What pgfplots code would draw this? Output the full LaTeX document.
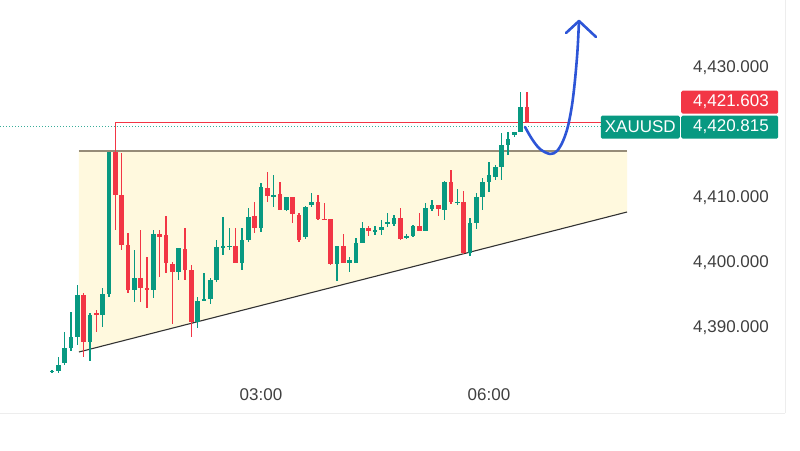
\documentclass[border=0pt]{standalone}
\usepackage{fontspec}
\setmainfont{Liberation Sans}
\usepackage{pgfplots}
\usepackage{pgfplotstable}
\pgfplotsset{compat=1.18}
\definecolor{cGreen}{RGB}{8,153,129}
\definecolor{cRed}{RGB}{242,54,69}
\definecolor{cFill}{RGB}{255,249,222}
\definecolor{cTop}{RGB}{150,140,120}
\definecolor{cBlue}{RGB}{45,85,215}

\pgfplotstableread{
i o h l c
3 4383.0 4383.4 4382.9 4383.3
4 4383.2 4385.4 4382.9 4384.15
5 4384.4 4389.3 4384.2 4386.7
6 4386.7 4392.35 4386.3 4388.5
7 4388.5 4396.5 4387.2 4394.9
9 4387.7 4392.2 4384.7 4391.85
11 4391.85 4396.0 4390.05 4395.1
12 4395.1 4417.0 4394.6 4417.0
16 4395.7 4401.85 4393.9 4397.5
19 4395.7 4405.0 4394.4 4404.3
23 4398.4 4402.1 4397.3 4402.1
26 4390.7 4394.6 4389.9 4394.0
27 4394.0 4398.3 4394.0 4394.3
28 4394.3 4397.6 4393.6 4397.2
29 4397.2 4403.4 4397.0 4402.3
30 4402.3 4406.9 4401.1 4402.4
31 4402.35 4405.2 4401.9 4402.5
33 4399.8 4405.2 4398.8 4403.4
34 4403.4 4408.3 4403.1 4406.9
36 4405.2 4412.1 4404.7 4411.6
38 4410.0 4413.4 4408.5 4410.3
40 4408.0 4410.0 4407.9 4409.95
43 4403.8 4408.6 4403.6 4408.5
44 4408.8 4410.6 4408.5 4409.3
48 4399.7 4402.5 4397.0 4402.5
50 4399.9 4400.8 4398.5 4400.3
51 4399.9 4403.65 4399.8 4402.9
52 4402.9 4406.2 4402.9 4405.2
54 4404.66 4405.5 4404.2 4405.0
55 4404.9 4406.5 4404.1 4405.4
56 4405.95 4407.5 4405.4 4406.2
57 4405.85 4407.2 4405.6 4406.8
59 4403.74 4404.3 4403.6 4404.05
60 4404.0 4405.7 4403.9 4405.5
62 4404.8 4409.0 4404.7 4408.3
63 4408.1 4409.5 4407.9 4408.8
65 4408.0 4412.5 4406.5 4412.35
67 4409.1 4411.3 4408.8 4409.3
69 4401.4 4406.7 4400.9 4405.95
70 4405.95 4410.6 4405.1 4410.05
71 4410.05 4412.9 4408.0 4412.35
72 4412.35 4415.4 4410.8 4413.4
73 4413.1 4415.0 4412.6 4414.66
74 4414.66 4419.8 4412.6 4418.0
75 4418.0 4420.05 4416.5 4419.0
76 4419.5 4420.0 4419.2 4420.0
77 4420.05 4426.2 4420.05 4423.9
}\greentab

\pgfplotstableread{
i o h l c
8 4394.9 4395.3 4385.4 4387.7
10 4392.2 4392.6 4389.3 4391.85
13 4417.0 4421.6 4404.9 4410.3
14 4410.3 4416.7 4401.85 4402.6
15 4402.6 4404.4 4395.2 4395.7
17 4397.5 4405.0 4393.9 4396.0
18 4396.05 4400.8 4392.9 4395.7
20 4404.3 4405.0 4397.7 4403.9
21 4404.15 4407.0 4398.3 4399.8
22 4399.65 4400.0 4390.5 4398.4
24 4401.95 4405.2 4397.2 4398.8
25 4398.8 4399.5 4388.5 4390.7
32 4402.4 4405.2 4399.8 4399.8
35 4407.1 4409.3 4404.4 4405.2
37 4411.4 4413.9 4409.3 4410.15
39 4410.5 4412.35 4408.0 4408.0
41 4409.95 4410.0 4405.95 4407.4
42 4407.2 4407.5 4403.1 4403.4
45 4409.3 4410.3 4406.5 4406.7
46 4406.7 4409.0 4406.4 4406.46
47 4406.6 4406.6 4399.5 4399.7
49 4402.5 4404.3 4399.8 4399.8
53 4405.2 4405.6 4404.0 4404.8
58 4406.8 4408.3 4403.4 4403.5
61 4405.5 4407.5 4404.7 4404.8
64 4408.8 4408.8 4407.0 4408.1
66 4412.35 4414.2 4408.9 4409.2
68 4409.2 4411.0 4401.3 4401.4
78 4423.9 4426.2 4421.6 4421.6
}\redtab

\begin{document}
\begin{tikzpicture}[x=1pt,y=1pt]
\useasboundingbox (0,0) rectangle (800,450);
\fill[white] (0,0) rectangle (800,450);
\draw[black!7, line width=1pt] (0,37) -- (785,37);
\draw[black!7, line width=1pt] (785,37) -- (785,450);
\begin{axis}[
  at={(0pt,67pt)}, anchor=south west,
  width=680pt, height=383pt, scale only axis,
  xmin=-5.21, xmax=102.16, ymin=4381.38, ymax=4440.31,
  axis line style={draw=none}, major tick length=0pt,
  xtick={36,72}, xticklabels={03:00,06:00},
  ytick={4390,4400,4410,4430},
  yticklabels={{4,390.000},{4,400.000},{4,410.000},{4,430.000}},
  yticklabel pos=right,
  tick label style={font=\fontsize{17}{20}\selectfont, text=black!75, inner sep=0pt},
  yticklabel style={anchor=west, xshift=13pt, text depth=0pt},
  xticklabel style={anchor=center, yshift=-12pt, text depth=0pt},
  clip=false]

% ascending triangle zone
\addplot[fill=cFill, draw=none, forget plot] coordinates {(7.26,4417.08) (93.8,4417.08) (93.8,4407.69) (7.26,4386.15)} -- cycle;
\addplot[cTop, line width=1.5pt, forget plot] coordinates {(7.26,4417.08) (93.8,4417.08)};
\addplot[black!80, line width=1.1pt, forget plot] coordinates {(7.26,4386.15) (93.8,4407.69)};

% price lines
\addplot[cGreen!80, line width=0.9pt, dash pattern=on 1pt off 2pt, forget plot] coordinates {(-5.21,4420.815) (102.16,4420.815)};
\addplot[cRed, line width=0.9pt, forget plot] coordinates {(13.1,4421.5) (102.16,4421.5)};

% wicks
\addplot[draw=none, mark=none, forget plot, error bars/.cd, y dir=both, y explicit, error mark=none,
  error bar style={draw=cGreen, line width=1.1pt}]
  table[x=i, y expr={(\thisrow{h}+\thisrow{l})/2}, y error expr={(\thisrow{h}-\thisrow{l})/2}] {\greentab};
\addplot[draw=none, mark=none, forget plot, error bars/.cd, y dir=both, y explicit, error mark=none,
  error bar style={draw=cRed, line width=1.1pt}]
  table[x=i, y expr={(\thisrow{h}+\thisrow{l})/2}, y error expr={(\thisrow{h}-\thisrow{l})/2}] {\redtab};
% bodies
\addplot[draw=none, mark=none, forget plot, error bars/.cd, y dir=both, y explicit, error mark=none,
  error bar style={draw=cGreen, line width=4.6pt}]
  table[x=i, y expr={(\thisrow{o}+\thisrow{c})/2}, y error expr={max(abs(\thisrow{c}-\thisrow{o})/2,0.1)}] {\greentab};
\addplot[draw=none, mark=none, forget plot, error bars/.cd, y dir=both, y explicit, error mark=none,
  error bar style={draw=cRed, line width=4.6pt}]
  table[x=i, y expr={(\thisrow{o}+\thisrow{c})/2}, y error expr={max(abs(\thisrow{c}-\thisrow{o})/2,0.1)}] {\redtab};

% projected path
\addplot[cBlue, line width=2.6pt, smooth, tension=0.55, line cap=round, forget plot] coordinates {
 (77.69,4420.77) (78.79,4418.92) (80.05,4417.38) (81.63,4416.62) (82.74,4417.08)
 (83.69,4418.62) (84.48,4420.92) (85.11,4424.15) (85.58,4428.0) (85.98,4432.62) (86.21,4437.08)};
\addplot[cBlue, line width=2.6pt, line cap=round, line join=round, forget plot] coordinates {
 (84.16,4435.23) (86.21,4437.08) (88.9,4434.62)};

% price labels
\node[fill=cRed, rounded corners=1.5pt, minimum width=97pt, minimum height=23pt, inner sep=0pt, anchor=west, xshift=1pt] at (axis cs:102.16,4424.6) {};
\node[text=white, font=\fontsize{17}{20}\selectfont, inner sep=0pt, anchor=east, xshift=89pt] at (axis cs:102.16,4424.6) {4,421.603};
\node[fill=cGreen, rounded corners=1.5pt, minimum width=97pt, minimum height=23pt, inner sep=0pt, anchor=west, xshift=1pt] at (axis cs:102.16,4420.75) {};
\node[text=white, font=\fontsize{17}{20}\selectfont, inner sep=0pt, anchor=east, xshift=89pt] at (axis cs:102.16,4420.75) {4,420.815};
\node[fill=cGreen, rounded corners=1.5pt, minimum width=79pt, minimum height=23pt, inner sep=0pt, anchor=east, text=white, font=\fontsize{17}{20}\selectfont] at (axis cs:102.16,4420.75) {XAUUSD};
\end{axis}
\end{tikzpicture}
\end{document}
